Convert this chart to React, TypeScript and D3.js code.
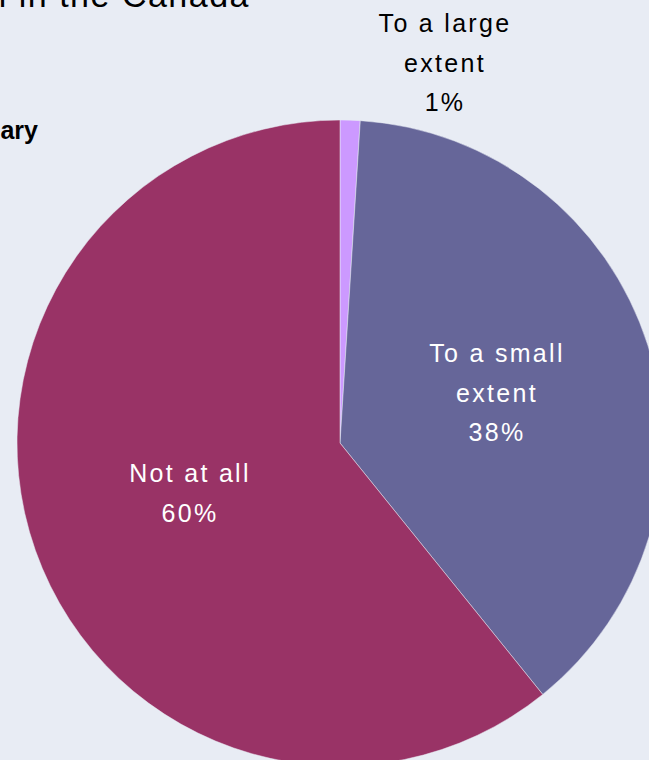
import React from "react";
import * as d3 from "d3";

const categories = ["To a large extent", "To a small extent", "Not at all"];
const values = [1.0, 38.2, 60.8];
const labelText = ["1%", "38%", "60%"];
const labelLines = [["To a large", "extent"], ["To a small", "extent"], ["Not at all"]];
const colors = ["#CC99FF", "#666699", "#993366"];

const W = 649;
const H = 760;

export default function App() {
  const cx = 340;
  const cy = 443;
  const r = 323;
  const pie = d3.pie<number>().sort(null).value((d) => d)(values);
  const arc = d3.arc<d3.PieArcDatum<number>>().innerRadius(0).outerRadius(r);
  const font = "'Liberation Sans', Arial, sans-serif";
  const bg = "#E8ECF4";

  const labelPos = [
    [445, 32],
    [497, 362],
    [190, 482],
  ];

  return (
    <svg
      width={W}
      height={H}
      style={{ position: "absolute", left: 0, top: 0, background: bg }}
    >
      <rect x={0} y={0} width={W} height={H} fill={bg} />
      <text x={250} y={7} textAnchor="end" fontFamily={font} fontSize={34} letterSpacing={1.5} fill="#000">
        l in the Canada
      </text>
      <text x={38} y={139} textAnchor="end" fontFamily={font} fontSize={25} fontWeight="bold" fill="#000">
        ary
      </text>
      <g transform={`translate(${cx},${cy})`}>
        {pie.map((p, i) => (
          <path key={i} d={arc(p) || ""} fill={colors[i]} stroke={bg} strokeWidth={0.5} aria-label={categories[i]} />
        ))}
      </g>
      {pie.map((p, i) => {
        const [x, y] = labelPos[i];
        const ls = [...labelLines[i], labelText[i]];
        return (
          <text
            key={"l" + i}
            x={x}
            y={y}
            textAnchor="middle"
            fontFamily={font}
            fontSize={25}
            letterSpacing={2.3}
            fill={i === 0 ? "#000" : "#fff"}
          >
            {ls.map((t, j) => (
              <tspan key={j} x={x} dy={j === 0 ? 0 : 39.5}>
                {t}
              </tspan>
            ))}
          </text>
        );
      })}
    </svg>
  );
}
